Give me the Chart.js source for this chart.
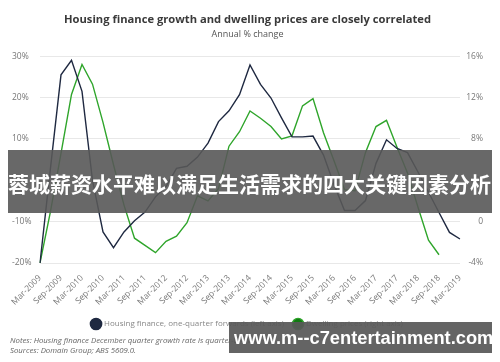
<!DOCTYPE html>
<html><head><meta charset="utf-8">
<script src="https://cdn.jsdelivr.net/npm/chart.js@4"></script>
<style>
html,body{margin:0;padding:0;background:#fff;}
#wrap{position:relative;width:500px;height:362px;overflow:hidden;font-family:"Open Sans",sans-serif;}
#c{position:absolute;left:0;top:0;}
#notes{position:absolute;left:10px;top:335px;font-size:7.8px;font-style:italic;color:#666;line-height:10px;}
#banner{position:absolute;left:8px;top:150px;width:484px;height:63px;background:rgba(88,88,88,0.9);color:#fff;font-family:"Noto Sans CJK SC",sans-serif;font-weight:700;font-size:21px;line-height:66px;white-space:nowrap;}
#wm{position:absolute;left:229px;top:322px;width:263px;height:31px;background:rgba(88,88,88,0.93);color:#fff;font-family:"Liberation Sans",Arial,sans-serif;font-weight:700;font-size:18.3px;line-height:32px;white-space:nowrap;padding-left:5px;box-sizing:border-box;}
</style></head>
<body><div id="wrap">
<canvas id="c" width="500" height="362"></canvas>
<div id="notes">Notes: Housing finance December quarter growth rate is quarter-to-date.<br>Sources: Domain Group; ABS 5609.0.</div>
<div id="banner">蓉城薪资水平难以满足生活需求的四大关键因素分析</div>
<div id="wm">www.m--c7entertainment.com</div>
</div>
<script>
const quarters = ["Mar-2009","Jun-2009","Sep-2009","Dec-2009","Mar-2010","Jun-2010","Sep-2010","Dec-2010",
"Mar-2011","Jun-2011","Sep-2011","Dec-2011","Mar-2012","Jun-2012","Sep-2012","Dec-2012",
"Mar-2013","Jun-2013","Sep-2013","Dec-2013","Mar-2014","Jun-2014","Sep-2014","Dec-2014",
"Mar-2015","Jun-2015","Sep-2015","Dec-2015","Mar-2016","Jun-2016","Sep-2016","Dec-2016",
"Mar-2017","Jun-2017","Sep-2017","Dec-2017","Mar-2018","Jun-2018","Sep-2018","Dec-2018","Mar-2019"];
const housingFinance = [-20,3,25.5,29,21.5,0,-12.5,-16.3,-12.5,-9.8,-7.7,-4,-1.5,2.9,3.4,5.6,
9,14.2,16.8,20.7,27.9,23.2,19.9,15.1,10.5,10.5,10.7,6.1,-1,-7.3,-7.3,-4.9,4.1,9.8,7.7,6.7,2,-2.9,-7.8,-12.6,-14.2];
const dwellingPrices = [-4,1.0,6.6,12.3,15.2,13.3,9.6,5.5,1.6,-1.6,-2.3,-3.0,-1.9,-1.4,-0.1,2.5,
2.0,3.2,7.3,8.7,10.7,10.0,9.2,8.0,8.3,11.2,11.9,8.6,5.9,3.1,3.0,6.7,9.2,9.8,7.2,4.7,1.4,-1.8,-3.2,null,null];
const leftTicks = [-20,-10,0,10,20,30];
const rightTicks = [-4,0,4,8,12,16];
const seriesNames = ["Housing finance, one-quarter forwards (left axis)","Dwelling prices (right axis)"];

new Chart(document.getElementById('c').getContext('2d'), {
  type:'line',
  data:{labels:quarters, datasets:[
    {label:seriesNames[0], data:housingFinance, yAxisID:'y', borderColor:'#1f2941', backgroundColor:'#1f2941', borderWidth:1.4, pointRadius:0, tension:0},
    {label:seriesNames[1], data:dwellingPrices, yAxisID:'y1', borderColor:'#2fa52b', backgroundColor:'#117a11', borderWidth:1.4, pointRadius:0, tension:0}
  ]},
  options:{
    responsive:false, animation:false, devicePixelRatio:1,
    layout:{padding:{left:12,right:17,top:8,bottom:24}},
    plugins:{
      title:{display:true,text:'Housing finance growth and dwelling prices are closely correlated',color:'#3a3a3a',font:{family:'"Open Sans"',size:11.2,weight:'bold'},padding:{top:5,bottom:3}},
      subtitle:{display:true,text:'Annual % change',color:'#555',font:{family:'"Open Sans"',size:9},padding:{top:0,bottom:16}},
      legend:{position:'bottom',labels:{usePointStyle:true,pointStyle:'circle',boxWidth:11,boxHeight:11,padding:10,color:'#888',font:{family:'"Open Sans"',size:8}}},
      tooltip:{enabled:false}
    },
    scales:{
      x:{offset:false,grid:{display:false},border:{display:false},
        afterFit:s=>{s.height=47;},
        ticks:{autoSkip:false,maxRotation:45,minRotation:45,padding:2,color:'#777',font:{family:'"Open Sans"',size:8.5},
          callback:(v,i)=> i%2===0 ? quarters[i] : ''}},
      y:{position:'left',min:-20,max:30,afterFit:s=>{s.width=28;},
        afterBuildTicks:s=>{s.ticks=leftTicks.map(v=>({value:v}));},
        grid:{color:'#e8e8e8',drawTicks:false},border:{display:false},
        ticks:{crossAlign:'far',color:'#777',font:{family:'"Open Sans"',size:8.5},callback:v=>v+'%'}},
      y1:{position:'right',min:-4,max:16,afterFit:s=>{s.width=23;},
        afterBuildTicks:s=>{s.ticks=rightTicks.map(v=>({value:v}));},
        grid:{display:false,drawTicks:false},border:{display:false},
        ticks:{crossAlign:'far',color:'#777',font:{family:'"Open Sans"',size:8.5},callback:v=> v===0?'0':v+'%'}}
    }
  }
});
</script>
</body></html>
